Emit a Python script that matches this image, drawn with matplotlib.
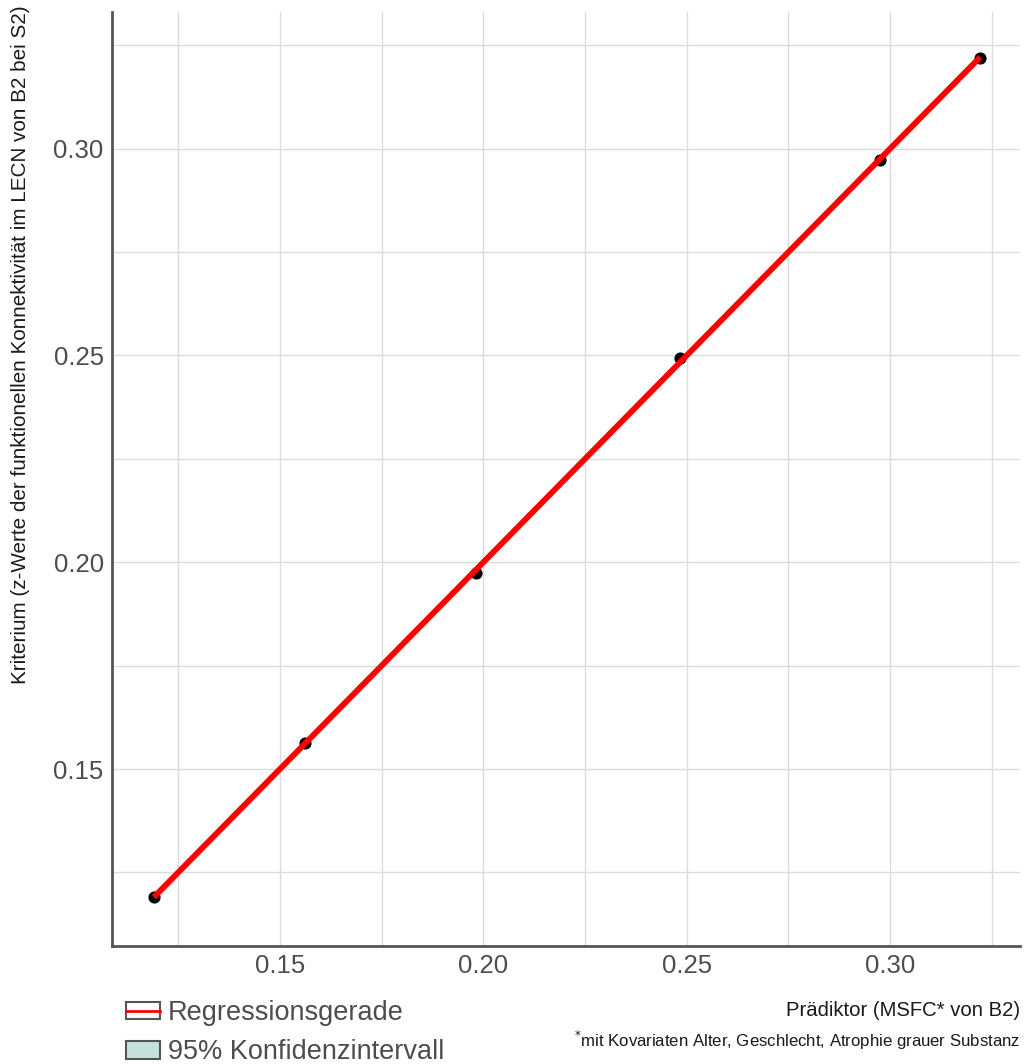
import numpy as np
import matplotlib
matplotlib.use("Agg")
import matplotlib.pyplot as plt
from matplotlib.patches import Patch
from matplotlib.lines import Line2D
from matplotlib.legend_handler import HandlerTuple

plt.rcParams["font.family"] = ["Liberation Sans", "DejaVu Sans"]

# Predictor and criterion values
predictor = [0.119, 0.1561, 0.1982, 0.2484, 0.2976, 0.3222]
criterion = [0.119, 0.1563, 0.1974, 0.2494, 0.2973, 0.3220]
x_ticks = [0.15, 0.20, 0.25, 0.30]
y_ticks = [0.15, 0.20, 0.25, 0.30]
x_tick_labels = ["0.15", "0.20", "0.25", "0.30"]
y_tick_labels = ["0.15", "0.20", "0.25", "0.30"]

x = np.array(predictor)
y = np.array(criterion)

# Linear fit with 95% confidence band
n = len(x)
slope, intercept = np.polyfit(x, y, 1)
xs = np.linspace(x.min(), x.max(), 200)
ys = intercept + slope * xs
resid = y - (intercept + slope * x)
s = np.sqrt(np.sum(resid**2) / (n - 2))
t_crit = 2.776  # t(0.975, df=4)
se = s * np.sqrt(1 / n + (xs - x.mean())**2 / np.sum((x - x.mean())**2))
band_color = "#c5e3dc"

fig = plt.figure(figsize=(10.26, 10.64), dpi=100)
ax = fig.add_axes([0.1092, 0.1109, 0.885, 0.878])

ax.fill_between(xs, ys - t_crit * se, ys + t_crit * se, color=band_color,
                alpha=0.5, lw=0, zorder=2)
ax.scatter(x, y, s=60, color="black", zorder=3)
ax.plot(xs, ys, color="#ff0000", lw=4.2, zorder=4, solid_capstyle="butt")

ax.set_xlim(0.1087, 0.332)
ax.set_ylim(0.1072, 0.3331)
ax.set_xticks(x_ticks)
ax.set_xticklabels(x_tick_labels)
ax.set_yticks(y_ticks)
ax.set_yticklabels(y_tick_labels)
ax.set_xticks([0.125, 0.175, 0.225, 0.275, 0.325], minor=True)
ax.set_yticks([0.125, 0.175, 0.225, 0.275, 0.325], minor=True)
ax.grid(True, which="both", color="#dcdcdc", lw=1.0, zorder=0)
ax.set_axisbelow(True)
ax.tick_params(which="both", length=0, labelsize=18.5, labelcolor="#4d4d4d", pad=6)

for side in ["top", "right"]:
    ax.spines[side].set_visible(False)
for side in ["left", "bottom"]:
    ax.spines[side].set_color("#555555")
    ax.spines[side].set_linewidth(2)

fig.text(0.0195, 0.676,
         "Kriterium (z-Werte der funktionellen Konnektivität im LECN von B2 bei S2)",
         rotation=90, ha="center", va="center", fontsize=14.9, color="#1a1a1a")

fig.text(0.9942, 1 - 1011 / 1064, "Prädiktor (MSFC* von B2)",
         ha="right", va="center", fontsize=14.6, color="#1a1a1a")
fig.text(0.9942, 1 - 1040 / 1064,
         r"$^{*}$mit Kovariaten Alter, Geschlecht, Atrophie grauer Substanz",
         ha="right", va="center", fontsize=12.1, color="#1a1a1a")

h1 = (Patch(facecolor="white", edgecolor="#555555", lw=1.5),
      Line2D([], [], color="#ff0000", lw=2))
h2 = Patch(facecolor=band_color, edgecolor="#555555", lw=1.5)
fig.legend([h1, h2], ["Regressionsgerade", "95% Konfidenzintervall"],
           handler_map={tuple: HandlerTuple(ndivide=1, pad=0)},
           loc="upper left", bbox_to_anchor=(0.1228, 1 - 1000 / 1064),
           frameon=False, fontsize=19.5, labelcolor="#4d4d4d",
           handlelength=1.26, handleheight=0.63, handletextpad=0.3,
           labelspacing=0.49, borderaxespad=0, borderpad=0)

fig.savefig("out.png", dpi=100)
